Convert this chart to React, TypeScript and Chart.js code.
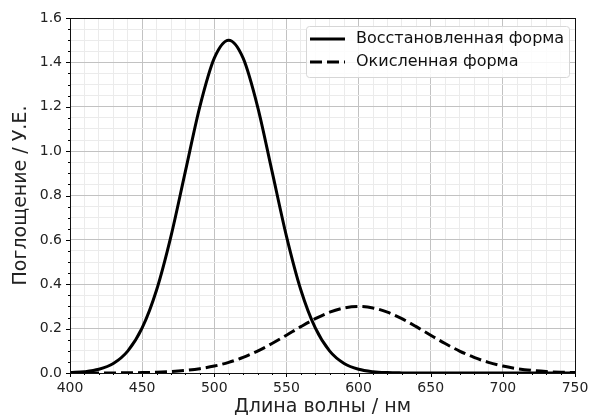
import { useEffect, useRef } from "react";
import { Chart, registerables } from "chart.js";

Chart.register(...registerables);

// Wavelength grid (nm)
const wavelengths = [
  400, 410, 420, 430, 440, 450, 460, 470, 480, 490, 500, 510, 520, 530, 540, 550, 560, 570,
  580, 590, 600, 610, 620, 630, 640, 650, 660, 670, 680, 690, 700, 710, 720, 730, 740, 750,
];

// Reduced form absorbance (solid)
const reducedForm = [
  0.0018, 0.0058, 0.0167, 0.0428, 0.0986, 0.203, 0.374, 0.617, 0.91, 1.201, 1.419, 1.5, 1.419,
  1.201, 0.91, 0.617, 0.374, 0.203, 0.0986, 0.0428, 0.0167, 0.0058, 0.0018, 0.0005, 0.0001, 0,
  0, 0, 0, 0, 0, 0, 0, 0, 0, 0,
];

// Oxidized form absorbance (dashed)
const oxidizedForm = [
  0.0, 0.0001, 0.0002, 0.0004, 0.0009, 0.0018, 0.0036, 0.0065, 0.0115, 0.0194, 0.0312, 0.048,
  0.0704, 0.0989, 0.1328, 0.1703, 0.2088, 0.2447, 0.274, 0.2933, 0.3, 0.2933, 0.274, 0.2447,
  0.2088, 0.1703, 0.1328, 0.0989, 0.0704, 0.048, 0.0312, 0.0194, 0.0115, 0.0065, 0.0036, 0.0018,
];

const seriesLabels = ["Восстановленная форма", "Окисленная форма"];
const xTitle = "Длина волны / нм";
const yTitle = "Поглощение / У.Е.";
const xMin = 400;
const xMax = 750;
const yMin = 0;
const yMax = 1.6;

const FONT = "'DejaVu Sans', sans-serif";
const MAJOR_GRID = "#c2c2c2";
const MINOR_GRID = "#ebebeb";
const DASH = [12, 5];

const isXMajor = (v: number) => Math.abs(v / 50 - Math.round(v / 50)) < 1e-6;
const isYMajor = (v: number) => Math.abs(v / 0.2 - Math.round(v / 0.2)) < 1e-6;

const framePlugin = {
  id: "mplFrame",
  afterDraw(chart: any) {
    const { ctx, chartArea: a, scales } = chart;
    ctx.save();
    ctx.strokeStyle = "#000";
    ctx.lineWidth = 1;
    // tick marks
    ctx.beginPath();
    for (const t of scales.x.ticks) {
      const px = Math.round(scales.x.getPixelForValue(t.value)) + 0.5;
      const len = isXMajor(t.value) ? 4 : 2;
      ctx.moveTo(px, a.bottom);
      ctx.lineTo(px, a.bottom + len);
    }
    for (const t of scales.y.ticks) {
      const py = Math.round(scales.y.getPixelForValue(t.value)) + 0.5;
      const len = isYMajor(t.value) ? 4 : 2;
      ctx.moveTo(a.left, py);
      ctx.lineTo(a.left - len, py);
    }
    ctx.stroke();
    // frame
    ctx.strokeStyle = "#111";
    ctx.strokeRect(a.left + 0.5, a.top + 0.5, a.right - a.left, a.bottom - a.top);

    // legend
    const bw = 263;
    const bh = 51;
    const bx = a.right - 6 - bw;
    const by = a.top + 8;
    ctx.fillStyle = "rgba(255,255,255,0.85)";
    ctx.strokeStyle = "#d6d6d6";
    ctx.lineWidth = 1;
    ctx.beginPath();
    (ctx as any).roundRect(bx + 0.5, by + 0.5, bw, bh, 3);
    ctx.fill();
    ctx.stroke();
    const rows = [by + 13, by + 36];
    chart.data.datasets.forEach((ds: any, i: number) => {
      const y = rows[i];
      ctx.strokeStyle = "#000";
      ctx.lineWidth = 3;
      ctx.setLineDash(ds.borderDash || []);
      ctx.beginPath();
      ctx.moveTo(bx + 4, y);
      ctx.lineTo(bx + 39, y);
      ctx.stroke();
      ctx.setLineDash([]);
      ctx.fillStyle = "#111";
      ctx.font = `16px ${FONT}`;
      ctx.textBaseline = "middle";
      ctx.textAlign = "left";
      ctx.fillText(ds.label, bx + 50, y);
    });
    ctx.restore();
  },
};

export default function App() {
  const canvasRef = useRef<HTMLCanvasElement | null>(null);

  useEffect(() => {
    if (!canvasRef.current) return;
    const chart = new Chart(canvasRef.current, {
      type: "line",
      data: {
        datasets: [
          {
            label: seriesLabels[0],
            data: wavelengths.map((x, i) => ({ x, y: reducedForm[i] })),
            borderColor: "#000",
            borderWidth: 3,
            pointRadius: 0,
            cubicInterpolationMode: "monotone",
            fill: false,
          },
          {
            label: seriesLabels[1],
            data: wavelengths.map((x, i) => ({ x, y: oxidizedForm[i] })),
            borderColor: "#000",
            borderWidth: 3,
            borderDash: DASH,
            pointRadius: 0,
            cubicInterpolationMode: "monotone",
            fill: false,
          },
        ],
      },
      options: {
        animation: false,
        responsive: true,
        maintainAspectRatio: false,
        devicePixelRatio: 1,
        layout: { padding: { top: 18, right: 16, left: 0, bottom: 0 } },
        plugins: { legend: { display: false }, tooltip: { enabled: false } },
        scales: {
          x: {
            type: "linear",
            min: xMin,
            max: xMax,
            afterFit: (s: any) => {
              s.height = 45;
              s.paddingLeft = 0;
              s.paddingRight = 0;
            },
            border: { display: false },
            grid: {
              drawTicks: false,
              color: (c: any) => (isXMajor(c.tick.value) ? MAJOR_GRID : MINOR_GRID),
              lineWidth: 1,
            },
            ticks: {
              stepSize: 10,
              autoSkip: false,
              maxRotation: 0,
              padding: 7,
              color: "#222",
              font: { family: FONT, size: 14 },
              callback: (v: any) => (isXMajor(Number(v)) ? String(Math.round(Number(v))) : ""),
            },
            title: {
              display: true,
              text: xTitle,
              color: "#222",
              font: { family: FONT, size: 19 },
              padding: { top: 0, bottom: 0 },
            },
          },
          y: {
            type: "linear",
            min: yMin,
            max: yMax,
            afterFit: (s: any) => {
              s.width = 70;
              s.paddingTop = 0;
              s.paddingBottom = 0;
            },
            border: { display: false },
            grid: {
              drawTicks: false,
              color: (c: any) => (isYMajor(c.tick.value) ? MAJOR_GRID : MINOR_GRID),
              lineWidth: 1,
            },
            ticks: {
              stepSize: 0.05,
              autoSkip: false,
              padding: 8,
              color: "#222",
              font: { family: FONT, size: 14 },
              callback: (v: any) => (isYMajor(Number(v)) ? Number(v).toFixed(1) : ""),
            },
            title: {
              display: true,
              text: yTitle,
              color: "#222",
              font: { family: FONT, size: 19 },
              padding: { top: 10, bottom: 0 },
            },
          },
        },
      },
      plugins: [framePlugin],
    });
    return () => chart.destroy();
  }, []);

  return (
    <div style={{ position: "absolute", left: 0, top: 0, width: 591, height: 418 }}>
      <canvas ref={canvasRef} />
    </div>
  );
}
